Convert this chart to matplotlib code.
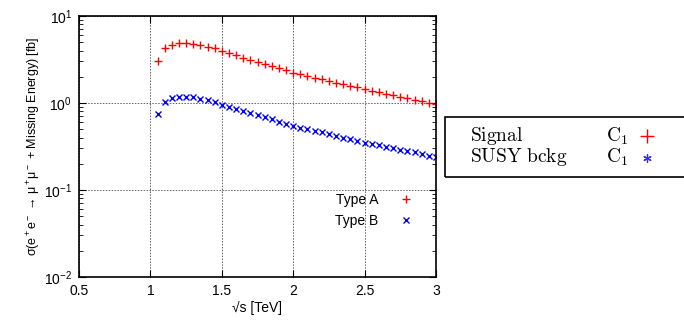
import matplotlib
matplotlib.use('Agg')
import matplotlib.pyplot as plt
from matplotlib.lines import Line2D
from matplotlib.patches import Rectangle
from matplotlib.ticker import LogLocator, NullFormatter

plt.rcParams['font.family'] = ['Liberation Sans', 'DejaVu Sans']
plt.rcParams['mathtext.fontset'] = 'custom'
plt.rcParams['mathtext.rm'] = 'Liberation Sans'
plt.rcParams['mathtext.it'] = 'Liberation Sans:italic'
plt.rcParams['font.size'] = 10

# sqrt(s) scan points [TeV]
sqrt_s = [1.05, 1.10, 1.15, 1.20, 1.25, 1.30, 1.35, 1.40, 1.45, 1.50,
          1.55, 1.60, 1.65, 1.70, 1.75, 1.80, 1.85, 1.90, 1.95, 2.00,
          2.05, 2.10, 2.15, 2.20, 2.25, 2.30, 2.35, 2.40, 2.45, 2.50,
          2.55, 2.60, 2.65, 2.70, 2.75, 2.80, 2.85, 2.90, 2.95, 3.00]

# cross sections [fb]
xsec_type_a = [3.00, 4.25, 4.65, 4.85, 4.85, 4.75, 4.60, 4.42, 4.25, 3.95,
               3.73, 3.53, 3.33, 3.15, 2.98, 2.81, 2.66, 2.51, 2.37, 2.24,
               2.14, 2.05, 1.96, 1.88, 1.80, 1.72, 1.65, 1.57, 1.51, 1.44,
               1.385, 1.33, 1.28, 1.23, 1.18, 1.14, 1.09, 1.05, 1.01, 0.97]

xsec_type_b = [0.74, 1.04, 1.13, 1.18, 1.18, 1.16, 1.12, 1.08, 1.04, 0.96,
               0.91, 0.86, 0.81, 0.77, 0.73, 0.69, 0.65, 0.61, 0.58, 0.55,
               0.52, 0.50, 0.48, 0.46, 0.44, 0.42, 0.40, 0.385, 0.37, 0.35,
               0.34, 0.325, 0.31, 0.30, 0.29, 0.28, 0.27, 0.26, 0.248, 0.238]

x_ticks = [0.5, 1, 1.5, 2, 2.5, 3]

fig = plt.figure(figsize=(6.84, 3.2), dpi=100)
ax = fig.add_axes([79/684, 1 - 277/320, 357/684, 261/320])

ax.plot(sqrt_s, xsec_type_a, ls='none', marker='+', ms=6, mew=1.0,
        color='#ff0000', label='Type A')
ax.plot(sqrt_s, xsec_type_b, ls='none', marker='x', ms=5, mew=1.0,
        color='#0000ff', label='Type B')

ax.set_yscale('log')
ax.set_xlim(0.5, 3)
ax.set_ylim(1e-2, 1e1)
ax.set_xticks(x_ticks)
ax.set_xticklabels(['0.5', '1', '1.5', '2', '2.5', '3'])
ax.yaxis.set_minor_locator(LogLocator(base=10, subs=range(2, 10), numticks=20))
ax.yaxis.set_minor_formatter(NullFormatter())

ax.tick_params(which='both', direction='in', top=True, right=True)
ax.tick_params(which='major', length=5, width=0.8, labelsize=10, pad=5)
ax.tick_params(which='minor', length=3, width=0.6)
for sp in ax.spines.values():
    sp.set_linewidth(1.2)

ax.grid(True, which='major', color='#606060', ls=(0, (1.5, 1.5)), lw=0.7)

ax.set_xlabel('√s [TeV]', fontsize=10, labelpad=2)
ax.set_ylabel('σ(e$^+$e$^-$ → μ$^+$μ$^-$ + Missing Energy) [fb]',
              fontsize=9, labelpad=1)

ax.legend(loc='center right', bbox_to_anchor=(0.97, 0.255), frameon=False,
          markerfirst=False, fontsize=10, handlelength=1.0, handletextpad=1.5,
          labelspacing=0.45)

# side box with model labels
fig.add_artist(Rectangle((445/684, 1 - 177/320), 260/684, 60/320,
                         transform=fig.transFigure, fill=False,
                         edgecolor='black', lw=1.2, clip_on=False))
box_fs = 14
fig.text(470/684, 1 - 136/320, r'$\mathrm{Signal}$', fontsize=box_fs,
         math_fontfamily='cm', va='center')
fig.text(470/684, 1 - 157/320, r'$\mathrm{SUSY\ bckg}$', fontsize=box_fs,
         math_fontfamily='cm', va='center')
fig.text(606/684, 1 - 136/320, r'$\mathrm{C}_1$', fontsize=box_fs,
         math_fontfamily='cm', va='center')
fig.text(606/684, 1 - 157/320, r'$\mathrm{C}_1$', fontsize=box_fs,
         math_fontfamily='cm', va='center')
fig.add_artist(Line2D([647/684], [1 - 136/320], marker='+', ms=10, mew=1.0,
                      color='#ff0000', transform=fig.transFigure))
fig.add_artist(Line2D([647/684], [1 - 158/320], marker=(6, 2, 0), ms=6,
                      mew=0.9, color='#3030ff', transform=fig.transFigure))

fig.savefig('out.png', dpi=100)
